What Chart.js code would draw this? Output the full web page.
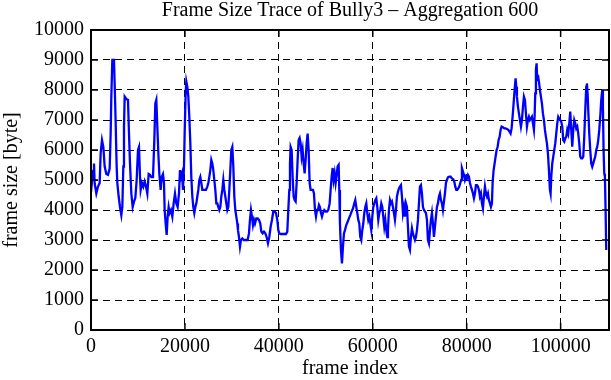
<!DOCTYPE html>
<html>
<head>
<meta charset="utf-8">
<script src="https://cdn.jsdelivr.net/npm/chart.js@4.4.1/dist/chart.umd.min.js"></script>
<style>
html,body{margin:0;padding:0;background:#fff;}
#wrap{width:611px;height:380px;}
</style>
</head>
<body>
<div id="wrap"><canvas id="c" width="611" height="380"></canvas></div>
<script>
const titleText = "Frame Size Trace of Bully3 \u2013 Aggregation 600";
const xLabel = "frame index";
const yLabel = "frame size [byte]";
const xTicks = [0, 20000, 40000, 60000, 80000, 100000];
const yTicks = [0, 1000, 2000, 3000, 4000, 5000, 6000, 7000, 8000, 9000, 10000];
const xMax = 110300;

const frames = [
0,426,638,780,1135,1490,1845,2058,2342,2626,2910,3264,3619,3974,4187,4329,4542,4897,5039,5252,5464,5606,5890,6174,6458,6671,6884,7026,7168,7523,7877,8090,8303,8587,8871,9155,9439,9723,10007,10220,10433,10574,10858,11142,11426,11710,11994,12278,12562,12846,13200,13484,13697,13910,14123,14336,14549,14833,15045,
15329,15542,15684,15897,16110,16323,16535,16748,17032,17316,17600,17884,18168,18452,18736,18948,19161,19374,19587,19800,19942,20155,20297,20510,20723,20936,21149,21361,21574,21787,22000,22213,22426,22639,22852,23065,23278,23491,23703,23916,24200,24484,24768,24981,25194,25407,25620,25833,26045,26258,26471,26684,26897,27110,27323,27536,27749,27962,28175,28387,28600,28813,29026,29239,29452,29665,29878,30091,30304,30517,30729,30942,31155,31297,
31509,31722,31935,32219,32502,32786,33070,33354,33638,33851,34064,34277,34490,34703,34916,35200,35483,35767,36051,36264,36548,36832,37116,37400,37683,37967,38251,38535,38819,39103,39387,39670,39883,40096,40380,40664,40948,41232,41516,41800,42012,42225,42367,42509,42722,42935,43148,43361,43574,43787,44000,44213,44425,44638,44851,45064,45277,45490,45703,45916,46129,46342,46555,46768,47052,
47264,47477,47690,47903,48116,48329,48541,48754,48967,49180,49393,49677,49961,50245,50529,50813,51026,51238,51451,51664,51877,52090,52303,52516,52729,52870,53012,53225,53438,53651,53864,54077,54361,54645,54929,55213,55497,55780,56064,56277,56490,56703,56916,57129,57342,57555,57768,57980,58193,58406,58619,58832,59045,59258,59471,59684,59897,60110,60322,60535,60748,60961,61174,61387,61600,61813,62026,62239,62452,62665,62877,63090,
63231,63444,63657,63870,64083,64296,64508,64721,64934,65147,65360,65573,65786,65999,66212,66425,66638,66850,67063,67276,67489,67702,67915,68128,68341,68554,68767,68980,69192,69405,69618,69831,70044,70257,70470,70683,70896,71109,71322,71534,71747,71960,72173,72386,72599,72812,73025,73238,73451,73664,73876,74089,74302,74515,74728,74941,75154,75367,75580,75793,76006,76290,76574,76857,77141,77354,77567,77780,77993,78206,78419,78632,78845,78987,
79412,79625,79838,80051,80264,80476,80689,80902,81115,81328,81541,81754,81967,82180,82393,82606,82818,83031,83244,83457,83670,83883,84096,84309,84522,84735,84948,85160,85373,85515,85728,85941,86154,86367,86580,86793,87006,87219,87432,87715,87999,88283,88567,88851,89135,89348,89561,89774,89986,90199,90412,90554,90696,90909,91122,91335,91548,91761,91974,92187,92399,92612,92825,93038,93251,93464,93677,93890,94103,94316,94458,94599,94741,94883,95025,
95166,95379,95592,95805,96018,96231,96444,96656,96869,97082,97295,97508,97721,97863,98005,98218,98431,98644,98857,99069,99282,99495,99708,99921,100134,100347,100560,100773,100986,101198,101411,101624,101837,102050,102263,102476,102689,102902,103115,103327,103540,103753,103966,104179,104392,104605,104818,105031,105244,105456,105598,105740,105882,106095,106308,106521,106734,106947,107160,107373,107585,107798,108011,108224,108437,108650,108863,109005,109147,109289,109431,109573,109715
];

const sizes = [
4600,5300,5550,4890,4550,4780,4900,5900,6330,6100,5450,5200,5170,5380,6550,7780,9000,9000,8200,6900,5450,4900,4450,4100,3830,4100,5450,6780,7780,7700,7670,6550,5550,4550,4100,4280,4400,5000,6000,6100,5100,4670,4900,4780,4950,4780,4550,5200,5170,5100,5100,6330,7550,7670,6780,5900,5200,4670,5100,
5200,4900,4000,3550,3170,3780,4100,3900,4000,3780,4220,4550,4220,4100,4550,5330,5100,5220,4670,5450,6550,7900,8280,8100,7780,7100,6220,5100,4450,4100,3900,4100,4220,4450,4670,5000,5100,4900,4670,4670,4670,4670,4780,4900,5100,5330,5670,5550,5330,5000,4670,4220,4220,4100,4000,4100,4450,4670,5000,4670,4450,4220,4000,4100,4670,5330,6000,6100,5450,4450,4000,3780,3550,3330,
3100,2780,3000,3050,3000,3000,3000,3000,3220,3670,4000,3780,3500,3670,3550,3720,3720,3670,3550,3280,3220,3280,3220,3100,2890,3100,3440,3670,3950,3950,3900,3670,3330,3220,3200,3200,3200,3200,3200,3280,4000,4670,5550,6100,6000,5100,4450,4330,4280,4900,5670,6330,6400,6220,5780,6000,5550,5220,5670,6220,6550,6000,4900,4670,4670,
4670,4550,4000,3780,4000,4000,4170,4100,3900,3780,3900,4000,3950,3950,4000,4220,4670,5100,5400,5000,5220,4900,5170,5450,5500,4670,3550,2670,2220,2780,3220,3330,3500,3610,3720,3830,3950,4050,4220,4330,4100,3900,3670,3550,3100,3000,3330,3550,3900,4100,4220,3900,3670,3780,3550,3330,3780,4100,4220,4330,4390,4100,3670,3900,4000,4220,4100,3780,3440,3670,3330,3100,
3330,4000,4330,4220,4280,4100,3900,3670,4000,4450,4610,4720,4780,4830,4450,3900,4100,3780,4220,4100,3440,2780,2670,3100,3390,3220,3100,3000,3100,3330,3670,4220,4780,4830,4550,4100,4000,3950,3900,3670,3000,2890,3330,3670,3900,3550,3100,3440,3780,4100,4220,4450,4550,4330,4220,4000,4280,4550,4900,5000,5090,5110,5110,5050,5020,4950,4780,4670,4670,4720,4780,4900,5000,5390,
5170,5000,5110,5050,5170,5110,4900,4780,4670,4550,4390,4550,4830,4830,4780,4670,4450,4550,4220,4050,4450,4780,4550,4450,4550,4330,4220,4100,4220,4900,5330,5550,5780,6000,6100,6330,6440,6670,6780,6760,6720,6720,6700,6670,6610,6550,6720,7110,7550,8000,8390,8110,7780,7440,7220,7000,6780,7000,7440,7780,7670,7220,6780,7000,7110,7000,7050,7110,6890,6670,7110,7890,8670,8890,8330,
8500,8280,8000,7780,7550,7220,7000,6670,6440,6220,5890,5330,4670,4550,5110,5550,5780,6000,6220,6550,6890,7110,7050,7000,6940,6780,6330,6280,6390,6440,6670,6550,6890,7280,6670,6110,6670,7000,6890,6720,6780,6550,6220,5780,5720,5720,5780,6440,7330,8110,8220,7890,7330,6550,6000,5550,5440,5550,5670,5780,6000,6110,6330,6670,7110,7670,8000,7440,6000,5220,5110,4000,2670
];

const points = frames.map((f, i) => ({x: f, y: sizes[i]}));
const serif = "'Liberation Serif','DejaVu Serif',serif";

const frameTicks = {
  id: 'frameTicks',
  afterDraw(chart) {
    const {ctx, chartArea: a, scales: {x, y}} = chart;
    const tl = 7;
    ctx.save();
    ctx.strokeStyle = '#000';
    ctx.lineWidth = 1.5;
    ctx.setLineDash([]);
    ctx.beginPath();
    xTicks.forEach(v => {
      const px = x.getPixelForValue(v);
      ctx.moveTo(px, a.bottom); ctx.lineTo(px, a.bottom - tl);
      ctx.moveTo(px, a.top); ctx.lineTo(px, a.top + tl);
    });
    yTicks.forEach(v => {
      const py = y.getPixelForValue(v);
      ctx.moveTo(a.left, py); ctx.lineTo(a.left + tl, py);
      ctx.moveTo(a.right, py); ctx.lineTo(a.right - tl, py);
    });
    ctx.stroke();
    ctx.lineWidth = 2;
    ctx.strokeRect(a.left, a.top, a.right - a.left, a.bottom - a.top);
    ctx.restore();
  }
};

new Chart(document.getElementById('c'), {
  type: 'line',
  data: {
    datasets: [{
      data: points,
      borderColor: '#0000ff',
      borderWidth: 2.3,
      pointRadius: 0,
      tension: 0,
      fill: false
    }]
  },
  options: {
    responsive: false,
    animation: false,
    events: [],
    layout: {padding: {left: 0, right: 2, top: 0, bottom: 0}},
    plugins: {
      legend: {display: false},
      tooltip: {enabled: false},
      title: {display: false}
    },
    scales: {
      x: {
        type: 'linear',
        min: 0,
        max: xMax,
        afterBuildTicks(s) { s.ticks = xTicks.map(v => ({value: v})); },
        afterFit(s) { s.height = 50; },
        grid: {color: '#000', lineWidth: 1, drawTicks: false},
        border: {display: false, dash: [7, 5]},
        ticks: {color: '#000', font: {family: serif, size: 20}, padding: 5, maxRotation: 0, autoSkip: false,
                callback: v => String(v)},
        title: {display: true, text: xLabel, color: '#000', font: {family: serif, size: 20, lineHeight: 1.0}, padding: {top: 0, bottom: 1}}
      },
      top: {
        type: 'linear',
        position: 'top',
        min: 0,
        max: xMax,
        afterFit(s) { s.height = 30; },
        grid: {display: false, drawTicks: false},
        border: {display: false},
        ticks: {display: false},
        title: {display: true, text: titleText, color: '#000', font: {family: serif, size: 20, lineHeight: 1.0}, padding: {top: 1, bottom: 0}}
      },
      y: {
        type: 'linear',
        min: 0,
        max: 10000,
        afterBuildTicks(s) { s.ticks = yTicks.map(v => ({value: v})); },
        afterFit(s) { s.width = 91; },
        grid: {color: '#000', lineWidth: 1, drawTicks: false},
        border: {display: false, dash: [7, 5]},
        ticks: {color: '#000', font: {family: serif, size: 20}, padding: 7, autoSkip: false,
                callback: v => String(v)},
        title: {display: true, text: yLabel, color: '#000', font: {family: serif, size: 20, lineHeight: 1.0}, padding: {top: 2, bottom: 0}}
      }
    }
  },
  plugins: [frameTicks]
});
</script>
</body>
</html>
